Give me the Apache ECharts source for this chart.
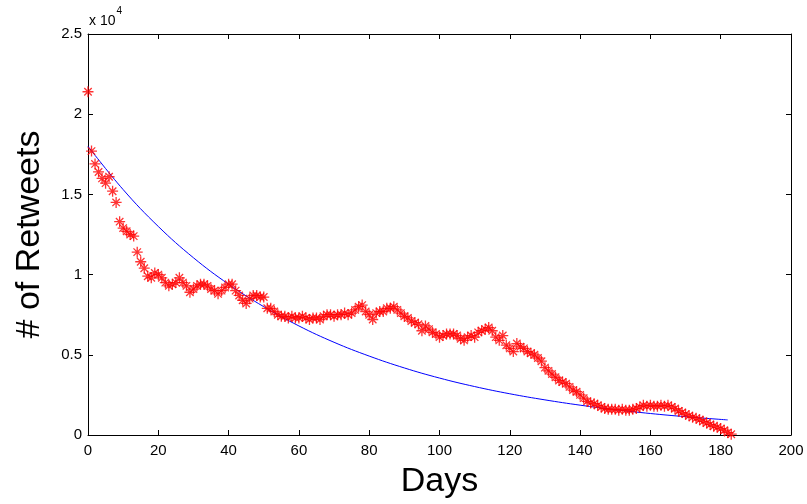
<!DOCTYPE html>
<html>
<head>
<meta charset="utf-8">
<script src="https://cdn.jsdelivr.net/npm/echarts@6/dist/echarts.min.js"></script>
<style>
  html, body { margin: 0; padding: 0; background: #fff; }
  #chart { width: 807px; height: 504px; }
</style>
</head>
<body>
<div id="chart"></div>
<script>
// Daily retweet counts, day 0 onward
const retweets = [
  21400, 17700, 16900, 16400, 16000, 15700, 16100, 15200, 14500, 13300,
  12900, 12700, 12500, 12400, 11400, 10800, 10400, 9900, 9800, 10100,
  10000, 9800, 9500, 9300, 9400, 9500, 9800, 9500, 9300, 8900,
  9100, 9300, 9400, 9400, 9300, 9100, 9000, 8800, 9000, 9200,
  9400, 9400, 9000, 8700, 8400, 8200, 8500, 8700, 8700, 8600,
  8600, 7900, 7900, 7700, 7500, 7400, 7400, 7300, 7400, 7300,
  7300, 7400, 7300, 7200, 7300, 7300, 7200, 7400, 7500, 7500,
  7400, 7500, 7500, 7600, 7500, 7600, 7800, 8000, 8100, 7700,
  7500, 7200, 7600, 7700, 7700, 7900, 7900, 8000, 7800, 7600,
  7400, 7300, 7100, 7000, 6900, 6500, 6800, 6600, 6400, 6300,
  6100, 6200, 6300, 6300, 6300, 6200, 6000, 5900, 6100, 6200,
  6100, 6400, 6500, 6600, 6700, 6500, 6100, 5900, 6200, 5600,
  5400, 5200, 5700, 5500, 5400, 5200, 5100, 5000, 4800, 4600,
  4200, 4000, 3800, 3600, 3400, 3300, 3200, 3000, 2800, 2700,
  2500, 2300, 2100, 2000, 1950, 1850, 1750, 1650, 1600, 1600,
  1600, 1550, 1600, 1550, 1550, 1600, 1650, 1750, 1850, 1800,
  1850, 1800, 1800, 1850, 1800, 1850, 1750, 1650, 1500, 1400,
  1300, 1200, 1100, 1050, 950, 850, 750, 650, 550, 480,
  400, 300, 150, 50
];

// Fitted decay curve, sampled at these days
const fitDays = [0, 10, 20, 30, 40, 50, 60, 70, 80, 90, 100, 110, 120, 130, 140, 150, 160, 170, 182];
const fitValues = [18000, 15300, 13000, 11050, 9400, 8000, 6800, 5780, 4920, 4180, 3550, 3020, 2570, 2190, 1860, 1580, 1340, 1140, 940];

const xTicks = { min: 0, max: 200, interval: 20 };
const yTicks = { min: 0, max: 25000, interval: 5000 };

const font = 'Liberation Sans, Arial, Helvetica, sans-serif';

const chart = echarts.init(document.getElementById('chart'), null, { renderer: 'canvas' });

// eight-spoke asterisk marker, stroked only
const asterisk = 'path://M5,0L5,10M0,5L10,5M1.6,1.6L8.4,8.4M8.4,1.6L1.6,8.4';

const tickStyle = { inside: true, length: 5, lineStyle: { color: '#000', width: 1 } };
const lineStyle = { show: true, onZero: false, lineStyle: { color: '#000', width: 1 } };

chart.setOption({
  animation: false,
  backgroundColor: '#fff',
  grid: { left: 88, right: 16, top: 34, bottom: 69, containLabel: false, outerBoundsMode: 'none' },
  xAxis: [
    {
      type: 'value', position: 'bottom',
      min: xTicks.min, max: xTicks.max, interval: xTicks.interval,
      axisLine: lineStyle,
      axisTick: tickStyle,
      splitLine: { show: false },
      axisLabel: { color: '#000', fontFamily: font, fontSize: 15, margin: 8 },
      name: 'Days', nameLocation: 'middle', nameGap: 30,
      nameTextStyle: { color: '#000', fontFamily: font, fontSize: 34 }
    },
    {
      type: 'value', position: 'top',
      min: xTicks.min, max: xTicks.max, interval: xTicks.interval,
      axisLine: lineStyle,
      axisTick: tickStyle,
      splitLine: { show: false },
      axisLabel: { show: false }
    }
  ],
  yAxis: [
    {
      type: 'value', position: 'left',
      min: yTicks.min, max: yTicks.max, interval: yTicks.interval,
      axisLine: lineStyle,
      axisTick: tickStyle,
      splitLine: { show: false },
      axisLabel: {
        color: '#000', fontFamily: font, fontSize: 15, margin: 6,
        formatter: v => String(v / 10000)
      },
      name: '# of Retweets', nameLocation: 'middle', nameGap: 41,
      nameTextStyle: { color: '#000', fontFamily: font, fontSize: 34 }
    },
    {
      type: 'value', position: 'right',
      min: yTicks.min, max: yTicks.max, interval: yTicks.interval,
      axisLine: lineStyle,
      axisTick: tickStyle,
      splitLine: { show: false },
      axisLabel: { show: false }
    }
  ],
  graphic: [
    {
      type: 'text', left: 89, top: 6,
      style: {
        text: '{b|x 10}{s|4}',
        rich: {
          b: { fontFamily: font, fontSize: 14, fill: '#000', padding: [8, 0, 0, 0] },
          s: { fontFamily: font, fontSize: 10, fill: '#000', verticalAlign: 'top', padding: [0, 0, 0, 1] }
        }
      }
    }
  ],
  series: [
    {
      type: 'scatter',
      xAxisIndex: 0, yAxisIndex: 0,
      data: retweets.map((v, i) => [i, v]),
      symbol: asterisk,
      symbolSize: 11,
      itemStyle: { color: 'rgba(0,0,0,0)', borderColor: '#ff0000', borderWidth: 1.3 },
      z: 3
    },
    {
      type: 'line',
      xAxisIndex: 0, yAxisIndex: 0,
      data: fitDays.map((d, i) => [d, fitValues[i]]),
      smooth: 0.4,
      showSymbol: false,
      lineStyle: { color: '#0000ff', width: 1 },
      z: 2
    }
  ]
});
</script>
</body>
</html>
